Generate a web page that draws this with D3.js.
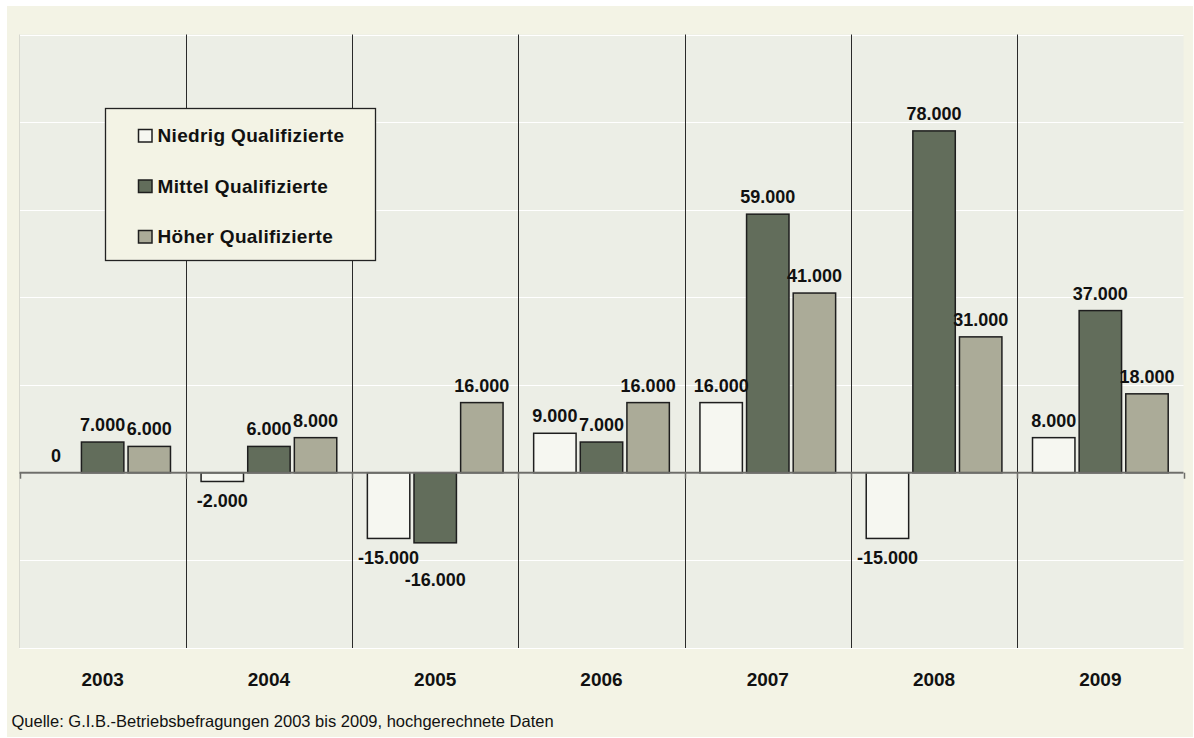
<!DOCTYPE html>
<html>
<head>
<meta charset="utf-8">
<script src="https://cdn.jsdelivr.net/npm/d3@7"></script>
<style>
  html, body { margin: 0; padding: 0; background: #ffffff; }
  svg { display: block; }
</style>
</head>
<body>
<svg id="chart" width="1194" height="738"></svg>
<script>
// ---- data ----
const years = ["2003", "2004", "2005", "2006", "2007", "2008", "2009"];
const seriesNames = ["Niedrig Qualifizierte", "Mittel Qualifizierte", "Höher Qualifizierte"];
const niedrig = [0, -2000, -15000, 9000, 16000, -15000, 8000];
const mittel  = [7000, 6000, -16000, 7000, 59000, 78000, 37000];
const hoeher  = [6000, 8000, 16000, 16000, 41000, 31000, 18000];
const yTicks  = [-40000, -20000, 0, 20000, 40000, 60000, 80000, 100000];
const sourceText = "Quelle: G.I.B.-Betriebsbefragungen 2003 bis 2009, hochgerechnete Daten";

const seriesValues = [niedrig, mittel, hoeher];
const colors = ["#f6f7f1", "#626d5b", "#abab98"];

const svg = d3.select("#chart");
const plot = { left: 19.5, right: 1183.5, top: 34.5, bottom: 648 };

// outer panel
svg.append("rect").attr("x", 7).attr("y", 6).attr("width", 1186).attr("height", 731)
  .attr("fill", "#f3f3e5");

// plot background
svg.append("rect").attr("x", plot.left).attr("y", plot.top)
  .attr("width", plot.right - plot.left).attr("height", plot.bottom - plot.top)
  .attr("fill", "#eceee6");

const y = d3.scaleLinear().domain([-40000, 100000]).range([plot.bottom, plot.top]);
const x0 = d3.scaleBand().domain(years).range([plot.left, plot.right]).padding(0);
const bw = x0.bandwidth();
const x1 = d3.scaleBand().domain(d3.range(3)).range([bw * 0.092, bw * 0.908]).paddingInner(0.09);

// gridlines
svg.append("g").selectAll("line").data(yTicks).join("line")
  .attr("x1", plot.left).attr("x2", plot.right)
  .attr("y1", d => Math.round(y(d)) + 0.5).attr("y2", d => Math.round(y(d)) + 0.5)
  .attr("stroke", "#ffffff").attr("stroke-width", 1);

// left border of plot
svg.append("line").attr("x1", plot.left).attr("x2", plot.left)
  .attr("y1", plot.top).attr("y2", plot.bottom).attr("stroke", "#d8d9d0").attr("stroke-width", 1);

// category separators
svg.append("g").selectAll("line").data(years.slice(1)).join("line")
  .attr("x1", d => Math.round(x0(d)) + 0.5).attr("x2", d => Math.round(x0(d)) + 0.5)
  .attr("y1", plot.top).attr("y2", plot.bottom)
  .attr("stroke", "#2a2a2a").attr("stroke-width", 1);

const y0 = y(0);

// bars
const barData = [];
years.forEach((yr, i) => {
  seriesValues.forEach((vals, s) => {
    barData.push({ year: yr, s: s, v: vals[i] });
  });
});

svg.append("g").selectAll("rect").data(barData).join("rect")
  .attr("x", d => x0(d.year) + x1(d.s))
  .attr("width", x1.bandwidth())
  .attr("y", d => Math.min(y(d.v), y0))
  .attr("height", d => Math.abs(y(d.v) - y0))
  .attr("fill", d => colors[d.s])
  .attr("stroke", "#1e1e1e").attr("stroke-width", 1.5)
  .attr("display", d => d.v === 0 ? "none" : null);

// zero axis line
svg.append("line").attr("x1", plot.left).attr("x2", plot.right)
  .attr("y1", y0).attr("y2", y0).attr("stroke", "#6e6e6a").attr("stroke-width", 2);

// tick marks below zero line at category boundaries
const boundaries = years.map(d => x0(d)).concat([x0.range()[1]]);
svg.append("g").selectAll("line").data(boundaries).join("line")
  .attr("x1", d => Math.round(d) + 0.5).attr("x2", d => Math.round(d) + 0.5)
  .attr("y1", y0).attr("y2", y0 + 6)
  .attr("stroke", "#6e6e6a").attr("stroke-width", 1.5);

// data labels with simple collision avoidance
const fmt = v => (v < 0 ? "-" : "") + d3.format(",")(Math.abs(v)).replace(/,/g, ".");
const labelFont = "bold 18px 'Liberation Sans', Arial, sans-serif";
const ctx = document.createElement("canvas").getContext("2d");
ctx.font = labelFont;
const labelsG = svg.append("g");
years.forEach((yr, i) => {
  const placed = [];
  seriesValues.forEach((vals, s) => {
    const v = vals[i];
    const txt = fmt(v);
    const cx = x0(yr) + x1(s) + x1.bandwidth() / 2;
    const w = ctx.measureText(txt).width;
    let base = v >= 0 ? y(v) - 11 : y(v) + 26;
    const box = () => ({ l: cx - w / 2, r: cx + w / 2, t: base - 13, b: base });
    let guard = 0;
    while (guard++ < 5) {
      const b = box();
      const hit = placed.find(p => b.l < p.r && b.r > p.l && b.t < p.b && b.b > p.t);
      if (!hit) break;
      base = v >= 0 ? hit.t - 9 : hit.b + 22;
    }
    placed.push(box());
    labelsG.append("text")
      .attr("x", cx).attr("y", base)
      .attr("text-anchor", "middle")
      .style("font", labelFont).attr("fill", "#111")
      .text(txt);
  });
});

// category labels
svg.append("g").selectAll("text").data(years).join("text")
  .attr("x", d => x0(d) + bw / 2).attr("y", 686)
  .attr("text-anchor", "middle")
  .style("font", "bold 19px 'Liberation Sans', Arial, sans-serif").attr("fill", "#111")
  .text(d => d);

// legend
const lg = svg.append("g");
lg.append("rect").attr("x", 105.5).attr("y", 108.5).attr("width", 270).attr("height", 152)
  .attr("fill", "#f3f3e5").attr("stroke", "#222").attr("stroke-width", 1.3);
seriesNames.forEach((name, s) => {
  const by = 142 + s * 50.5;
  lg.append("rect").attr("x", 138.5).attr("y", by - 12.5).attr("width", 13.5).attr("height", 12.5)
    .attr("fill", colors[s]).attr("stroke", "#1e1e1e").attr("stroke-width", 1.5);
  lg.append("text").attr("x", 157.5).attr("y", by)
    .style("font", "bold 19px 'Liberation Sans', Arial, sans-serif")
    .style("letter-spacing", "0.35px").attr("fill", "#111")
    .text(name);
});

// source
svg.append("text").attr("x", 11.5).attr("y", 727)
  .style("font", "16.5px 'Liberation Sans', Arial, sans-serif").attr("fill", "#111")
  .text(sourceText);
</script>
</body>
</html>
